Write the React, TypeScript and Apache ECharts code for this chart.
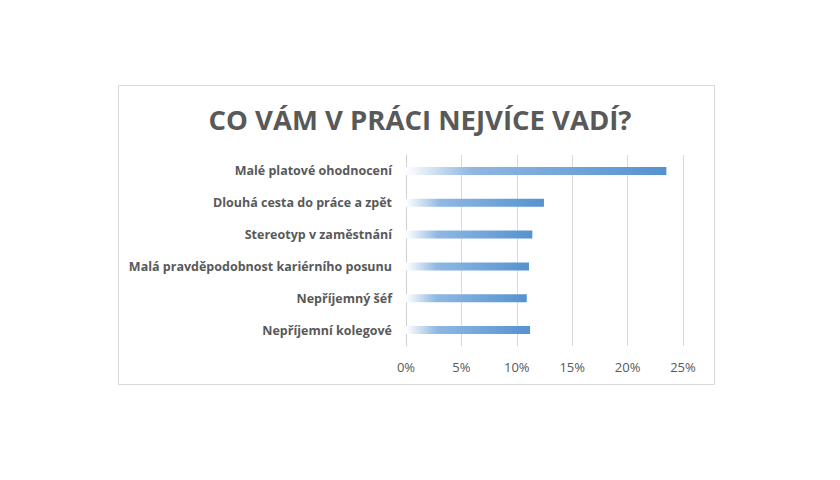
import React, { useRef, useEffect } from 'react';
import * as echarts from 'echarts';

const categories = [
  'Malé platové ohodnocení',
  'Dlouhá cesta do práce a zpět',
  'Stereotyp v zaměstnání',
  'Malá pravděpodobnost kariérního posunu',
  'Nepříjemný šéf',
  'Nepříjemní kolegové',
];
const values = [0.235, 0.1245, 0.114, 0.111, 0.109, 0.112];
const title = 'CO VÁM V PRÁCI NEJVÍCE VADÍ?';

const FONT = '"Open Sans", sans-serif';
const TEXT = '#595959';

const App: React.FC = () => {
  const chartRef = useRef<HTMLDivElement>(null);

  useEffect(() => {
    if (!chartRef.current) return;
    const chart = echarts.init(chartRef.current, null, { renderer: 'svg' });

    const option: echarts.EChartsOption = {
      animation: false,
      backgroundColor: '#ffffff',
      textStyle: { fontFamily: FONT },
      title: {
        text: title,
        left: 415,
        top: 100,
        textAlign: 'center',
        textStyle: { fontFamily: FONT, fontSize: 27.5, fontWeight: 'bold', color: TEXT },
      },
      graphic: [
        {
          type: 'rect',
          shape: { x: 118.5, y: 85.5, width: 596, height: 299 },
          style: { fill: 'none', stroke: '#d9d9d9', lineWidth: 1 },
          silent: true,
        },
      ],
      grid: { left: 406, top: 155, width: 277, height: 191 },
      xAxis: {
        type: 'value',
        min: 0,
        max: 0.25,
        interval: 0.05,
        axisLine: { show: false },
        axisTick: { show: false },
        splitLine: { lineStyle: { color: '#d9d9d9', width: 1 } },
        axisLabel: {
          margin: 14,
          color: TEXT,
          fontSize: 13,
          fontFamily: FONT,
          formatter: (v: number) => `${Math.round(v * 100)}%`,
        },
      },
      yAxis: {
        type: 'category',
        data: categories,
        inverse: true,
        axisTick: { show: false },
        axisLine: { lineStyle: { color: '#d0d0d0', width: 1 } },
        axisLabel: {
          margin: 14,
          color: TEXT,
          fontSize: 12.5,
          fontWeight: 'bold',
          fontFamily: FONT,
        },
      },
      series: [
        {
          type: 'bar',
          data: values,
          barWidth: 8,
          itemStyle: {
            color: new echarts.graphic.LinearGradient(0, 0, 1, 0, [
              { offset: 0, color: '#ffffff' },
              { offset: 0.25, color: '#8fb8e2' },
              { offset: 1, color: '#5592d0' },
            ]),
          },
        },
      ],
    };

    chart.setOption(option);
    return () => chart.dispose();
  }, []);

  return (
    <div
      ref={chartRef}
      style={{ position: 'fixed', left: 0, top: 0, width: 840, height: 480 }}
    />
  );
};

export default App;
